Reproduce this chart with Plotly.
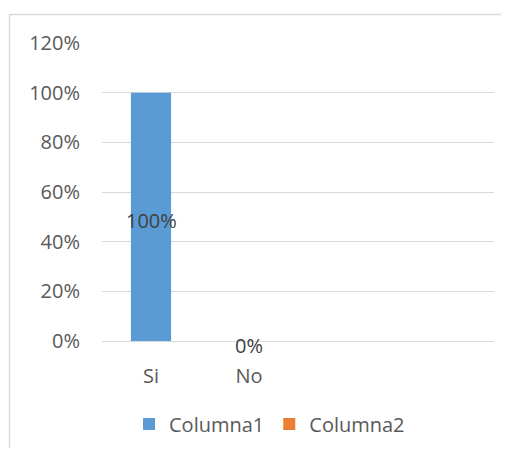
import plotly.graph_objects as go

categories = ["Si", "No", " ", "  "]
columna1 = [1.0, 0.0, None, None]
columna2 = [None, None, None, None]
label_text = ["100%", "0%", "", ""]
y_ticks = [0, 0.2, 0.4, 0.6, 0.8, 1.0, 1.2]

# page has an 8px body margin; figure coordinates = page coordinates - 8
OFF = 8
W, H = 493, 440
L, T = 102 - OFF, 43 - OFF
pw, ph = 392, 298
R, B = W - L - pw, H - T - ph

def px_x(p):
    return (p - OFF - L) / pw

def px_y(p):
    return (T + ph - (p - OFF)) / ph

def cx(p):
    return (p - OFF) / W

def cy(p):
    return 1 - (p - OFF) / H

font = "Open Sans"
fig = go.Figure()
fig.add_trace(go.Bar(x=categories, y=columna1, name="Columna1",
                     marker=dict(color="#5b9bd5", line=dict(width=0)), width=0.41))
fig.add_trace(go.Bar(x=categories, y=columna2, name="Columna2",
                     marker=dict(color="#ed7d31", line=dict(width=0)), width=0.41))

annotations = []
for cat, val, txt in zip(categories, columna1, label_text):
    if val is None or not txt:
        continue
    annotations.append(dict(x=cat, y=val / 2, xref="x", yref="y", text=txt,
                            showarrow=False, yshift=-4,
                            font=dict(family=font, size=20, color="#404040")))

x_edge = px_x(OFF + W)
y_edge = px_y(OFF + H)
fig.update_layout(
    width=W, height=H,
    margin=dict(l=L, r=R, t=T, b=B, autoexpand=False),
    paper_bgcolor="white", plot_bgcolor="white",
    barmode="overlay",
    font=dict(family=font, size=20, color="#595959"),
    showlegend=True,
    legend=dict(orientation="h", x=cx(129), y=cy(424), xanchor="left", yanchor="middle",
                xref="container", yref="container", font=dict(size=20, color="#595959"),
                itemwidth=30, traceorder="normal"),
    annotations=annotations,
    shapes=[
        dict(type="line", xref="paper", yref="paper",
             x0=px_x(9.5), x1=x_edge, y0=px_y(14.5), y1=px_y(14.5),
             line=dict(color="#d9d9d9", width=1.5), layer="below"),
        dict(type="line", xref="paper", yref="paper",
             x0=px_x(9.5), x1=px_x(9.5), y0=px_y(14.5), y1=y_edge,
             line=dict(color="#d9d9d9", width=1.5), layer="below"),
    ],
)
fig.update_xaxes(type="category", categoryorder="array", categoryarray=categories,
                 showgrid=False, showline=False, zeroline=False, automargin=False,
                 ticks="outside", ticklen=17, tickcolor="rgba(0,0,0,0)",
                 tickfont=dict(size=20, color="#595959"), fixedrange=True)
fig.update_yaxes(range=[0, 1.2], tickvals=y_ticks, tickformat=".0%",
                 showgrid=True, gridcolor="#d9d9d9", gridwidth=1.3,
                 zeroline=True, zerolinecolor="#d9d9d9", zerolinewidth=1.3,
                 showline=False, ticks="", ticklabelstandoff=21, automargin=False,
                 tickfont=dict(size=20, color="#595959"), fixedrange=True)

fig.write_html("out.html")
